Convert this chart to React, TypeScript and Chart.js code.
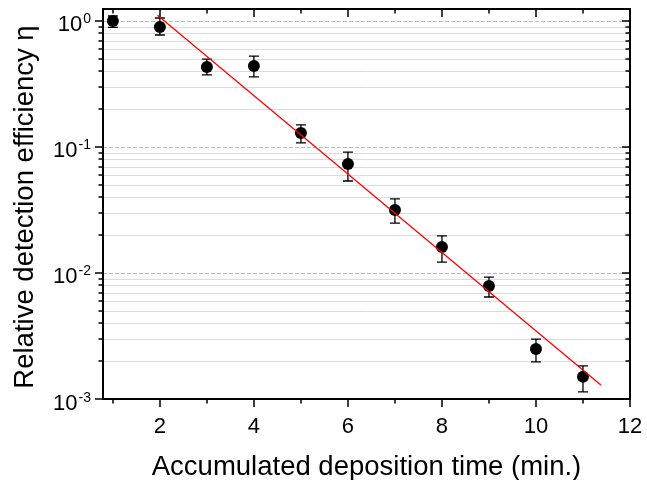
import React, { useEffect, useRef } from "react";
import { Chart, registerables } from "chart.js";

Chart.register(...registerables);

// ---- data ----
const times = [1, 2, 3, 4, 5, 6, 7, 8, 9, 10, 11];
const efficiency = [1.0, 0.896, 0.431, 0.44, 0.129, 0.0733, 0.0316, 0.0161, 0.00789, 0.00249, 0.0015];
const errHigh = [1.096, 1.056, 0.499, 0.527, 0.15, 0.0912, 0.0387, 0.0197, 0.00929, 0.00299, 0.00183];
const errLow = [0.891, 0.774, 0.373, 0.36, 0.108, 0.0537, 0.0249, 0.0122, 0.00645, 0.00197, 0.00114];

const fitX = [1.95, 11.38];
const fitY = [1.11, 0.00129];

// ---- axes ----
const xMajorTicks = [2, 4, 6, 8, 10, 12];
const xMinorTicks = [1, 3, 5, 7, 9, 11];
const yDecades = [0.001, 0.01, 0.1, 1];
const yExponents = ["-3", "-2", "-1", "0"];
const yMinorFactors = [2, 3, 4, 5, 6, 7, 8, 9];

const X_MIN = 0.79;
const X_MAX = 12;
const Y_MIN = 0.001;
const Y_MAX = 1.245;

const xTitle = "Accumulated deposition time (min.)";
const yTitle = "Relative detection efficiency \u03b7";

const FONT = '"Liberation Sans", Arial, sans-serif';

const decorPlugin = {
  id: "decor",
  beforeDatasetsDraw(chart: any) {
    const { ctx, chartArea: a, scales } = chart;
    const x = scales.x;
    const y = scales.y;
    ctx.save();
    // minor grid lines
    ctx.lineWidth = 1;
    ctx.strokeStyle = "#dcdcdc";
    ctx.setLineDash([]);
    for (const d of yDecades) {
      for (const f of yMinorFactors) {
        const v = d * f;
        if (v > Y_MAX) continue;
        const py = Math.round(y.getPixelForValue(v)) + 0.5;
        ctx.beginPath();
        ctx.moveTo(a.left, py);
        ctx.lineTo(a.right, py);
        ctx.stroke();
      }
    }
    // major grid lines
    ctx.strokeStyle = "#bcbcbc";
    ctx.setLineDash([4, 2]);
    for (const d of yDecades) {
      const py = Math.round(y.getPixelForValue(d)) + 0.5;
      if (py >= a.bottom - 1) continue;
      ctx.beginPath();
      ctx.moveTo(a.left, py);
      ctx.lineTo(a.right, py);
      ctx.stroke();
    }
    ctx.setLineDash([]);
    // error bars
    ctx.strokeStyle = "#000";
    ctx.lineWidth = 1.3;
    times.forEach((t, i) => {
      const px = x.getPixelForValue(t);
      const ph = y.getPixelForValue(errHigh[i]);
      const pl = y.getPixelForValue(errLow[i]);
      ctx.beginPath();
      ctx.moveTo(px, ph);
      ctx.lineTo(px, pl);
      ctx.moveTo(px - 5, ph);
      ctx.lineTo(px + 5, ph);
      ctx.moveTo(px - 5, pl);
      ctx.lineTo(px + 5, pl);
      ctx.stroke();
    });
    ctx.restore();
  },
  afterDraw(chart: any) {
    const { ctx, chartArea: a, scales } = chart;
    const x = scales.x;
    const y = scales.y;
    ctx.save();
    ctx.strokeStyle = "#000";
    ctx.fillStyle = "#000";
    // frame
    ctx.lineWidth = 2;
    ctx.strokeRect(a.left, a.top, a.right - a.left, a.bottom - a.top);
    // x ticks
    ctx.lineWidth = 1.5;
    const xTick = (v: number, len: number) => {
      const px = Math.round(x.getPixelForValue(v));
      ctx.beginPath();
      ctx.moveTo(px, a.bottom);
      ctx.lineTo(px, a.bottom + len);
      ctx.moveTo(px, a.top);
      ctx.lineTo(px, a.top + len);
      ctx.stroke();
    };
    xMajorTicks.forEach((v) => xTick(v, 8));
    xMinorTicks.forEach((v) => xTick(v, 4.5));
    // y ticks
    const yTick = (v: number, len: number) => {
      const py = Math.round(y.getPixelForValue(v));
      ctx.beginPath();
      ctx.moveTo(a.left, py);
      ctx.lineTo(a.left - len, py);
      ctx.moveTo(a.right, py);
      ctx.lineTo(a.right - len, py);
      ctx.stroke();
    };
    yDecades.forEach((d) => yTick(d, 8));
    for (const d of yDecades) {
      for (const f of yMinorFactors) {
        const v = d * f;
        if (v > Y_MAX) continue;
        yTick(v, 4.5);
      }
    }
    // x tick labels
    ctx.font = `22px ${FONT}`;
    ctx.textAlign = "center";
    ctx.textBaseline = "alphabetic";
    xMajorTicks.forEach((v) => {
      ctx.fillText(String(v), x.getPixelForValue(v), a.bottom + 34);
    });
    // y tick labels
    yDecades.forEach((d, i) => {
      const py = y.getPixelForValue(d);
      ctx.font = `22px ${FONT}`;
      const wb = ctx.measureText("10").width;
      ctx.font = `14px ${FONT}`;
      const we = ctx.measureText(yExponents[i]).width;
      const right = a.left - 12;
      const start = right - we - wb - 1;
      ctx.textAlign = "left";
      ctx.font = `22px ${FONT}`;
      ctx.fillText("10", start, py + 10.5);
      ctx.font = `14px ${FONT}`;
      ctx.fillText(yExponents[i], start + wb + 1, py + 2.5);
    });
    // titles
    ctx.font = `27.5px ${FONT}`;
    ctx.textAlign = "center";
    ctx.fillText(xTitle, (a.left + a.right) / 2, 475);
    ctx.save();
    ctx.translate(33, 207);
    ctx.rotate(-Math.PI / 2);
    ctx.fillText(yTitle, 0, 0);
    ctx.restore();
    ctx.restore();
  },
};

export default function App() {
  const ref = useRef<HTMLCanvasElement>(null);
  useEffect(() => {
    if (!ref.current) return;
    const chart = new Chart(ref.current, {
      type: "scatter",
      data: {
        datasets: [
          {
            type: "line",
            label: "fit",
            data: fitX.map((v, i) => ({ x: v, y: fitY[i] })),
            borderColor: "#ff0000",
            borderWidth: 1.3,
            pointRadius: 0,
            fill: false,
          },
          {
            type: "scatter",
            label: "data",
            data: times.map((t, i) => ({ x: t, y: efficiency[i] })),
            backgroundColor: "#000",
            borderColor: "#000",
            borderWidth: 0,
            pointRadius: 6,
          },
        ],
      } as any,
      options: {
        animation: false,
        responsive: true,
        maintainAspectRatio: false,
        layout: { padding: { left: 103, top: 9, right: 17, bottom: 81 } },
        plugins: { legend: { display: false }, tooltip: { enabled: false } },
        scales: {
          x: { type: "linear", display: false, min: X_MIN, max: X_MAX },
          y: { type: "logarithmic", display: false, min: Y_MIN, max: Y_MAX },
        },
      } as any,
      plugins: [decorPlugin],
    });
    return () => chart.destroy();
  }, []);
  return (
    <div style={{ position: "absolute", left: 0, top: 0, width: 647, height: 480 }}>
      <canvas ref={ref} />
    </div>
  );
}
